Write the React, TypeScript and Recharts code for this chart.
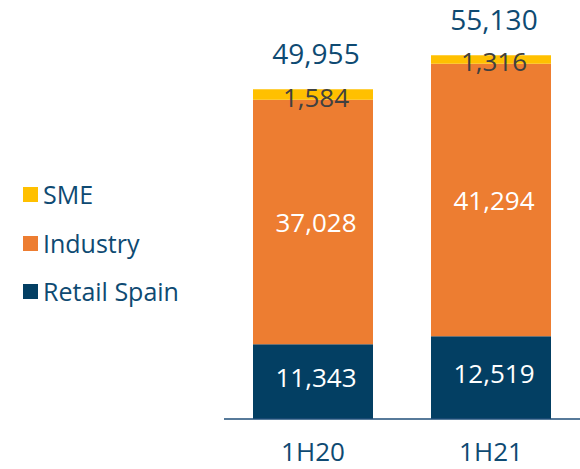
import { BarChart, Bar, XAxis, YAxis, LabelList } from "recharts";

const categories = ["1H20", "1H21"];
const retailSpain = [11343, 12519];
const industry = [37028, 41294];
const sme = [1584, 1316];
const totals = [49955, 55130];

const NAVY = "#033F63";
const TEXT_NAVY = "#0E4A72";
const ORANGE = "#ED7D31";
const YELLOW = "#FFC000";
const FONT = "'Open Sans', sans-serif";

const data = categories.map((name, i) => ({
  name,
  retail: retailSpain[i],
  industry: industry[i],
  sme: sme[i],
  total: totals[i],
}));

const legendItems = [
  { label: "SME", color: YELLOW, top: 194 },
  { label: "Industry", color: ORANGE, top: 243 },
  { label: "Retail Spain", color: NAVY, top: 291 },
];

const fmt = (v: number) => v.toLocaleString("en-US");

function makeLabel(color: string, size: number, dy: number, where: "center" | "top") {
  return (props: any) => {
    const vb = props.viewBox ?? props;
    const x = Number(vb.x) + Number(vb.width) / 2;
    const y = where === "center" ? Number(vb.y) + Number(vb.height) / 2 : Number(vb.y);
    return (
      <text
        x={x + 3}
        y={y + dy}
        fill={color}
        fontSize={size}
        fontFamily={FONT}
        textAnchor="middle"
        dominantBaseline="central"
      >
        {fmt(Number(props.value))}
      </text>
    );
  };
}

export default function App() {
  return (
    <div style={{ position: "absolute", left: 0, top: 0, width: 580, height: 469, background: "#fff" }}>
      <BarChart
        width={580}
        height={469}
        data={data}
        margin={{ top: 23, right: 0, bottom: 0, left: 224 }}
      >
        <XAxis
          dataKey="name"
          axisLine={{ stroke: "#1F4E79", strokeWidth: 1.5 }}
          tickLine={false}
          height={50}
          tickMargin={18}
          tick={{ fill: TEXT_NAVY, fontSize: 26, fontFamily: FONT }}
        />
        <YAxis hide domain={[0, 60000]} />
        <Bar dataKey="retail" stackId="a" fill={NAVY} barSize={120} isAnimationActive={false}>
          <LabelList dataKey="retail" content={makeLabel("#ffffff", 26, -5, "center")} />
        </Bar>
        <Bar dataKey="industry" stackId="a" fill={ORANGE} barSize={120} isAnimationActive={false}>
          <LabelList dataKey="industry" content={makeLabel("#ffffff", 26, 0, "center")} />
        </Bar>
        <Bar dataKey="sme" stackId="a" fill={YELLOW} barSize={120} isAnimationActive={false}>
          <LabelList dataKey="sme" content={makeLabel("#404040", 26, 2, "center")} />
          <LabelList dataKey="total" content={makeLabel(TEXT_NAVY, 28, -36, "top")} />
        </Bar>
      </BarChart>
      {legendItems.map((item) => (
        <div
          key={item.label}
          style={{
            position: "absolute",
            left: 23,
            top: item.top - 16,
            height: 32,
            display: "flex",
            alignItems: "center",
            fontFamily: FONT,
            fontSize: 25,
            color: TEXT_NAVY,
            whiteSpace: "nowrap",
          }}
        >
          <span style={{ width: 15, height: 15, background: item.color, marginRight: 5 }} />
          {item.label}
        </div>
      ))}
    </div>
  );
}
